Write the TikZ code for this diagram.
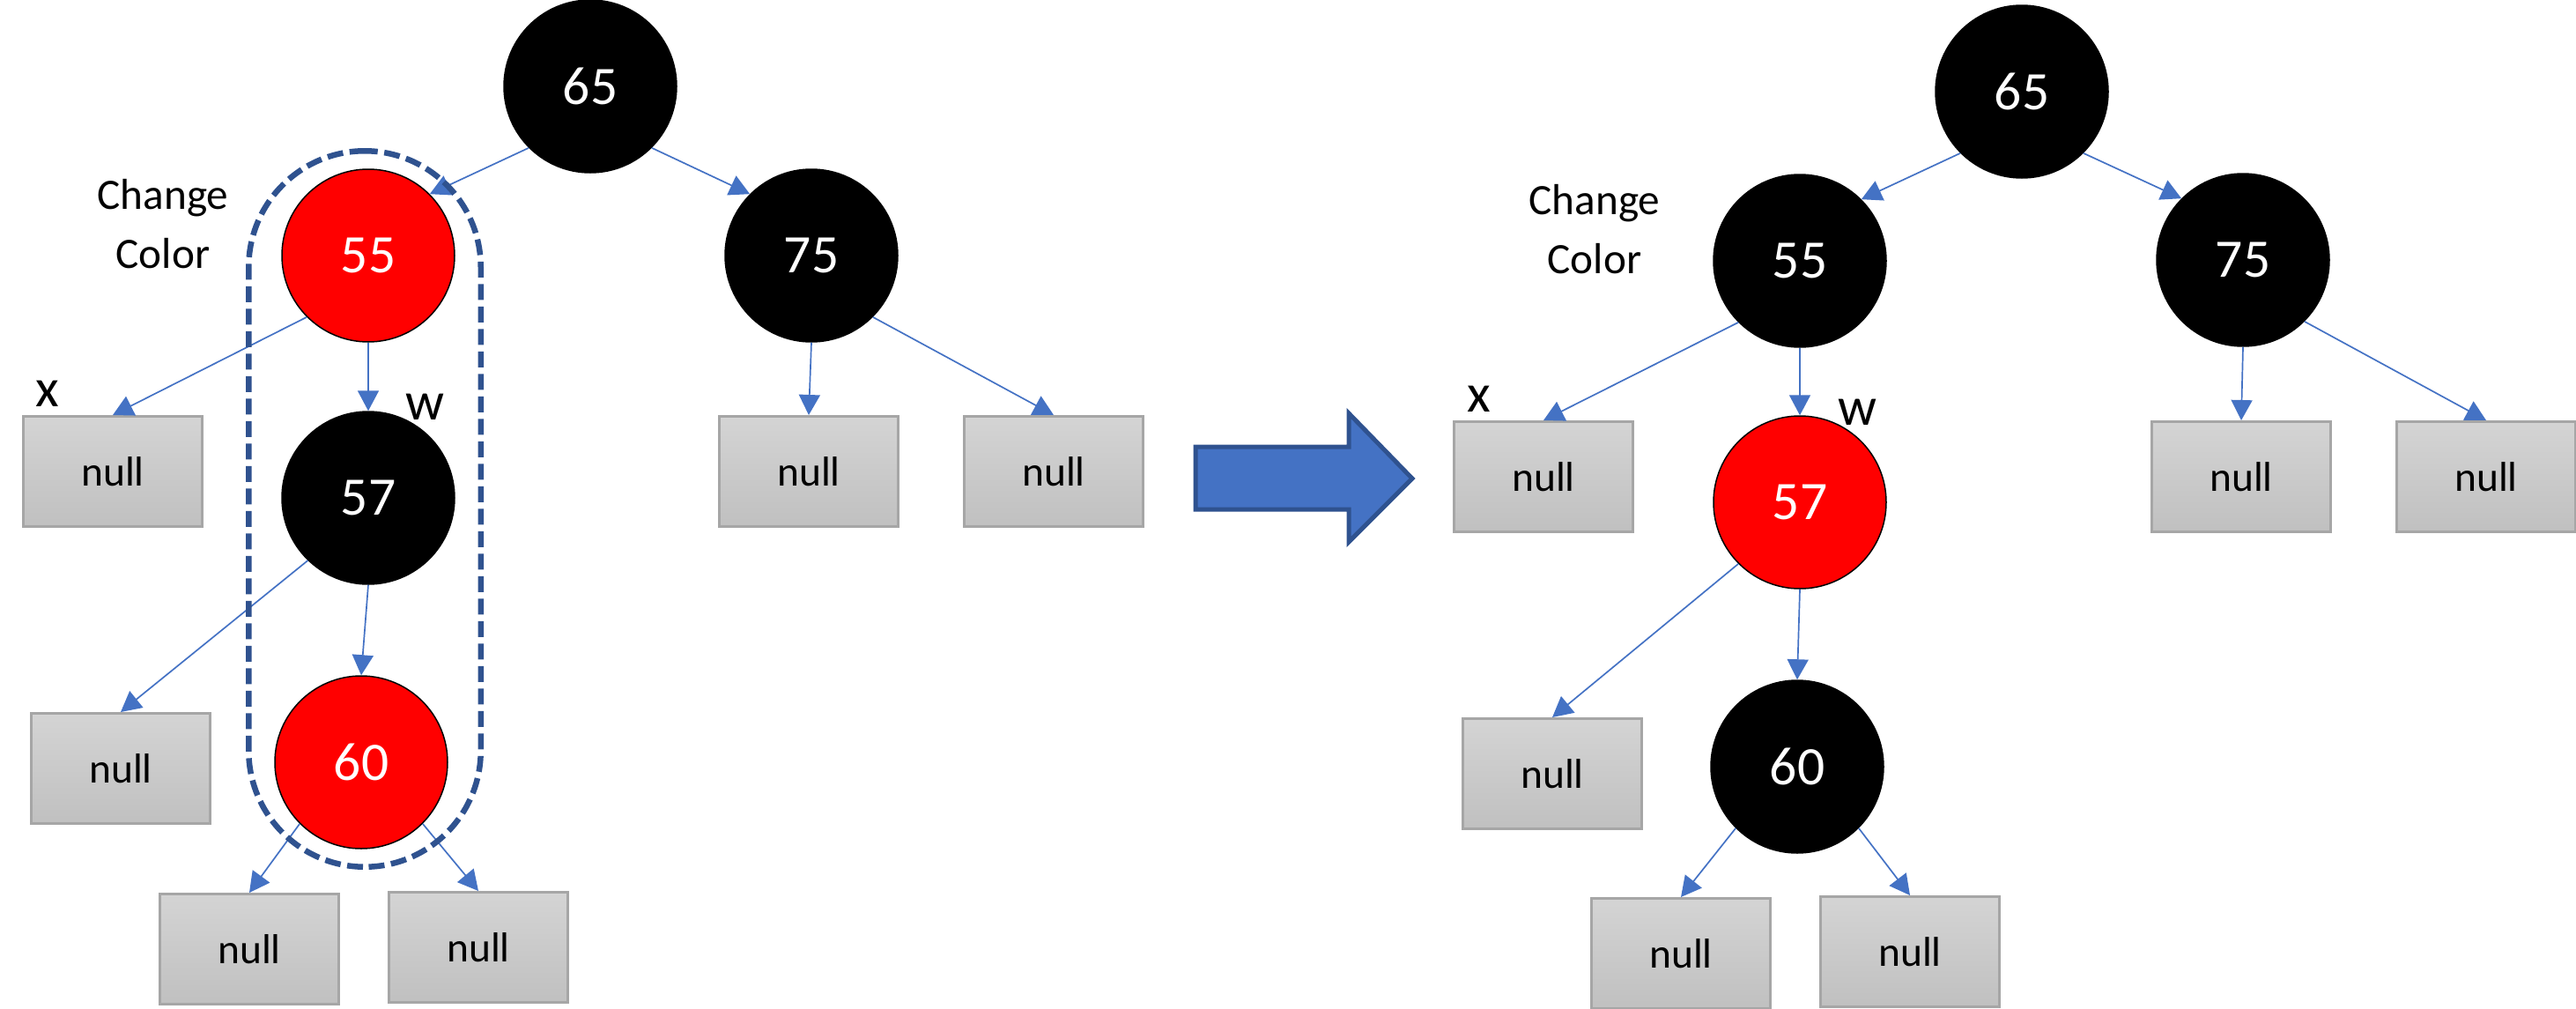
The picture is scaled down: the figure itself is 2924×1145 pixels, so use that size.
\documentclass[tikz,border=0pt]{standalone}
\usepackage{fontspec}
\setmainfont{Carlito}
\usepackage{xcolor}
\definecolor{rbred}{HTML}{FF0000}
\definecolor{edgeblue}{HTML}{4472C4}
\definecolor{rimblue}{HTML}{2F528F}
\definecolor{nullrim}{HTML}{A6A6A6}
\definecolor{nulltop}{HTML}{D4D4D4}
\definecolor{nullbot}{HTML}{C0C0C0}
\usepackage{tikz}
\usetikzlibrary{arrows.meta,fit}
\tikzset{
  rbn/.style    ={circle, draw=black, line width=0.15mm, minimum size=19.6mm, inner sep=0pt,
                  text=white, font=\fontsize{17.5}{20}\selectfont},
  bn/.style     ={rbn, fill=black},
  rn/.style     ={rbn, fill=rbred},
  nullbox/.style={rectangle, draw=nullrim, line width=0.3mm, top color=nulltop, bottom color=nullbot,
                  minimum width=20.3mm, minimum height=12.5mm, inner sep=0pt,
                  font=\fontsize{13.5}{16}\selectfont},
  arr/.style    ={-{Triangle[length=2.3mm, width=2.4mm]}, draw=edgeblue, line width=0.17mm},
  tag/.style    ={font=\fontsize{17.5}{20}\selectfont, inner sep=0pt},
  note/.style   ={align=center, font=\fontsize{14}{19}\selectfont, inner sep=0pt},
  flipbox/.style={draw=rimblue, line width=0.65mm, dash pattern=on 1.8mm off 0.75mm,
                  rounded corners=13.2mm, inner xsep=2.9mm, inner ysep=2mm},
  bigarrow/.style={fill=edgeblue, draw=rimblue, line width=0.5mm},
}

\begin{document}
\begin{tikzpicture}[x=0.1mm, y=-0.1mm]
  \useasboundingbox (0,0) rectangle (2924,1145);

  \node[bn] (a65) at (670,98) {65};
  \node[rn] (a55) at (418,290) {55};
  \node[bn] (a75) at (921,290) {75};
  \node[bn] (a57) at (418,565) {57};
  \node[rn] (a60) at (410,865) {60};
  \node[nullbox] (an1) at (128,535) {null};
  \node[nullbox] (an2) at (137,872) {null};
  \node[nullbox] (an3) at (283,1077) {null};
  \node[nullbox] (an4) at (543,1075) {null};
  \node[nullbox] (an5) at (918,535) {null};
  \node[nullbox] (an6) at (1196,535) {null};
  \node[note] (achg) at (185,254) {Change\\Color};
  \node[tag] (ax) at (54,447) {x};
  \node[tag] (aw) at (482,462) {w};
  \draw[arr] (a65.225) -- (a55.45);
  \draw[arr] (a65.315) -- (a75.135);
  \draw[arr] (a55.225) -- (an1.north);
  \draw[arr] (a55.south) -- (a57.north);
  \draw[arr] (a57.226) -- (an2.north);
  \draw[arr] (a57.south) -- (a60.north);
  \draw[arr] (a60.225) -- (an3.north);
  \draw[arr] (a60.315) -- (an4.north);
  \draw[arr] (a75.south) -- (an5.north);
  \draw[arr] (a75.315) -- (an6.north);
  \node[flipbox, fit=(a55)(a60)] (aflip) {};

  \draw[bigarrow] (1357,507) -- (1531,507) -- (1531,469) -- (1603,543) -- (1531,615)
                  -- (1531,578) -- (1357,578) -- cycle;

  \node[bn] (b65) at (2295,104) {65};
  \node[bn] (b55) at (2043,296) {55};
  \node[bn] (b75) at (2546,295) {75};
  \node[rn] (b57) at (2043,570) {57};
  \node[bn] (b60) at (2040,870) {60};
  \node[nullbox] (bn1) at (1752,541) {null};
  \node[nullbox] (bn2) at (1762,878) {null};
  \node[nullbox] (bn3) at (1908,1082) {null};
  \node[nullbox] (bn4) at (2168,1080) {null};
  \node[nullbox] (bn5) at (2544,541) {null};
  \node[nullbox] (bn6) at (2822,541) {null};
  \node[note] (bchg) at (1810,260) {Change\\Color};
  \node[tag] (bx) at (1679,453) {x};
  \node[tag] (bw) at (2108,468) {w};
  \draw[arr] (b65.225) -- (b55.45);
  \draw[arr] (b65.315) -- (b75.135);
  \draw[arr] (b55.225) -- (bn1.north);
  \draw[arr] (b55.south) -- (b57.north);
  \draw[arr] (b57.225) -- (bn2.north);
  \draw[arr] (b57.south) -- (b60.north);
  \draw[arr] (b60.225) -- (bn3.north);
  \draw[arr] (b60.315) -- (bn4.north);
  \draw[arr] (b75.south) -- (bn5.north);
  \draw[arr] (b75.315) -- (bn6.north);
\end{tikzpicture}
\end{document}
